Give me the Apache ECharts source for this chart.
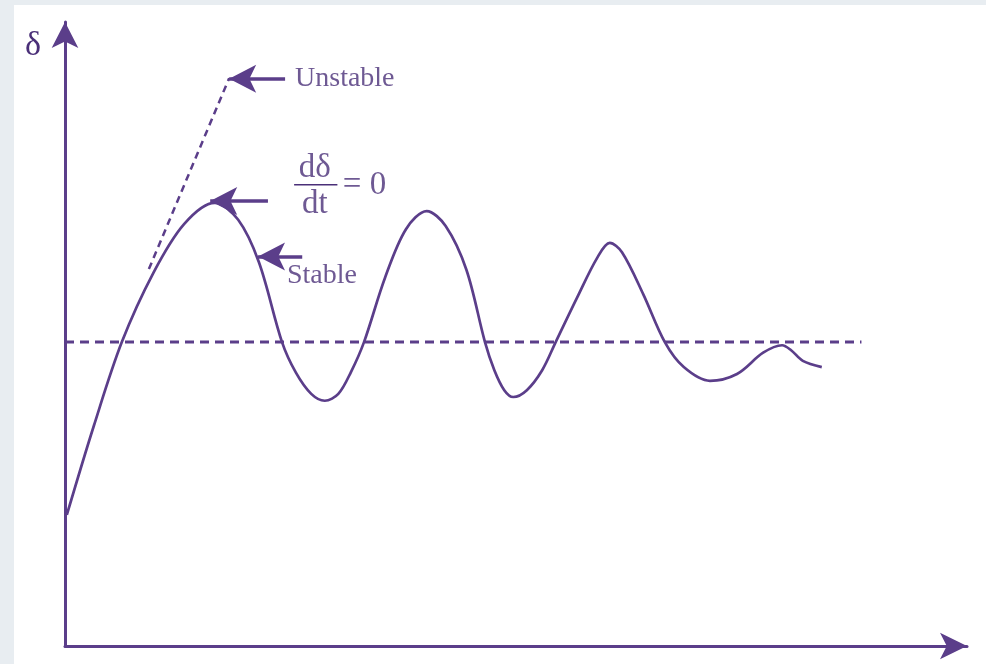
<!DOCTYPE html>
<html>
<head>
<meta charset="utf-8">
<script src="https://cdn.jsdelivr.net/npm/echarts@6/dist/echarts.min.js"></script>
<style>
  html, body { margin: 0; padding: 0; background: #e8edf1; }
  #main { position: absolute; left: 14px; top: 5px; width: 972px; height: 659px; background: #ffffff; }
</style>
</head>
<body>
<div id="main"></div>
<script>
// swing curve: rotor angle delta against time (both in 0..100 units)
var timeVals  = [0.2, 3.2, 6.3, 9.8, 13.2, 16.6, 19.2, 21.5, 24.06, 25.6, 27.3, 28.8, 30.3, 31.7, 33.15, 35.5, 37.8, 40.1, 42.2, 44.5, 46.56, 47.6, 48.7, 49.7, 51.2, 52.9, 54.4, 56.8, 59.0, 60.4, 61.75, 64.1, 66.5, 68.6, 71.5, 74.5, 77.4, 79.5, 80.5, 81.8, 83.9];
var deltaVals = [21.0, 35.3, 48.7, 59.8, 67.6, 71.0, 68.3, 61.5, 48.7, 43.8, 40.4, 39.3, 40.4, 43.9, 48.7, 59.1, 66.8, 69.7, 67.3, 60.3, 48.7, 44.2, 41.0, 39.9, 41.0, 44.2, 48.7, 55.9, 62.2, 64.6, 63.1, 56.4, 48.7, 44.7, 42.5, 43.6, 47.0, 48.2, 47.4, 45.7, 44.7];

// steady-state level (dashed)
var steadyX = [0, 88.3];
var steadyY = [48.7, 48.7];

// unstable branch (dashed)
var unstableX = [9.3, 18.2];
var unstableY = [60.4, 91.0];

// pointer arrows: tail -> tip
var arrowTail = [[24.4, 90.9], [22.5, 71.3], [26.3, 62.4]];
var arrowTip  = [[18.2, 90.9], [16.1, 71.3], [21.4, 62.4]];

// text notes
var noteTexts = ['Unstable', 'Stable', 'dδ', 'dt', '= 0'];
var noteX     = [25.5, 24.6, 27.7, 27.7, 30.8];
var noteY     = [91.0, 59.3, 76.5, 70.8, 73.8];
var noteAlign = ['left', 'left', 'center', 'center', 'left'];
var noteSize  = [28, 28, 33, 33, 33];

// fraction bar
var barX = [25.4, 30.2];
var barY = [73.9, 73.9];

var PURPLE = '#5b3e8a';
var INK = '#4a2f78';
var SERIF = '"Liberation Serif", "DejaVu Serif", serif';

function pairs(xs, ys) {
  var out = [];
  for (var i = 0; i < xs.length; i++) out.push([xs[i], ys[i]]);
  return out;
}

var chart = echarts.init(document.getElementById('main'));

var arrowLines = [];
for (var i = 0; i < arrowTail.length; i++) {
  arrowLines.push([{ coord: arrowTail[i] }, { coord: arrowTip[i] }]);
}

var notes = [];
for (var i = 0; i < noteTexts.length; i++) {
  notes.push({
    value: [noteX[i], noteY[i]],
    label: { formatter: noteTexts[i], align: noteAlign[i], fontSize: noteSize[i] }
  });
}

var option = {
  animation: false,
  grid: { left: 51, right: 19, top: 17, bottom: 18 },
  xAxis: {
    type: 'value',
    min: 0,
    max: 100,
    axisLine: {
      show: true,
      symbol: ['none', 'arrow'],
      symbolSize: [20, 27],
      lineStyle: { color: PURPLE, width: 3 }
    },
    axisTick: { show: false },
    axisLabel: { show: false },
    splitLine: { show: false }
  },
  yAxis: {
    type: 'value',
    min: 0,
    max: 100,
    name: 'δ',
    nameLocation: 'end',
    nameGap: -24,
    nameTextStyle: {
      fontFamily: SERIF,
      fontSize: 34,
      color: INK,
      align: 'right',
      verticalAlign: 'middle',
      padding: [0, 24, 0, 0]
    },
    axisLine: {
      show: true,
      symbol: ['none', 'arrow'],
      symbolSize: [20, 26],
      lineStyle: { color: PURPLE, width: 3 }
    },
    axisTick: { show: false },
    axisLabel: { show: false },
    splitLine: { show: false }
  },
  series: [
    {
      name: 'delta',
      type: 'line',
      data: pairs(timeVals, deltaVals),
      smooth: 0.33,
      showSymbol: false,
      lineStyle: { color: PURPLE, width: 2.7 }
    },
    {
      name: 'steady',
      type: 'line',
      data: pairs(steadyX, steadyY),
      showSymbol: false,
      lineStyle: { color: PURPLE, width: 3, type: [9, 6] }
    },
    {
      name: 'unstable',
      type: 'line',
      data: pairs(unstableX, unstableY),
      showSymbol: false,
      lineStyle: { color: PURPLE, width: 2.5, type: [7, 5] }
    },
    {
      name: 'fraction',
      type: 'line',
      data: pairs(barX, barY),
      showSymbol: false,
      lineStyle: { color: INK, width: 1.5 },
      markLine: {
        silent: true,
        symbol: ['none', 'arrow'],
        symbolSize: [21, 27],
        label: { show: false },
        lineStyle: { color: PURPLE, width: 3.5, type: 'solid' },
        data: arrowLines
      }
    },
    {
      name: 'notes',
      type: 'scatter',
      symbolSize: 0,
      data: notes,
      label: {
        show: true,
        position: 'inside',
        verticalAlign: 'middle',
        color: INK,
        fontFamily: SERIF,
        fontSize: 28
      }
    }
  ]
};

chart.setOption(option);
window.addEventListener('resize', function () {
  chart.resize();
});
</script>
</body>
</html>
